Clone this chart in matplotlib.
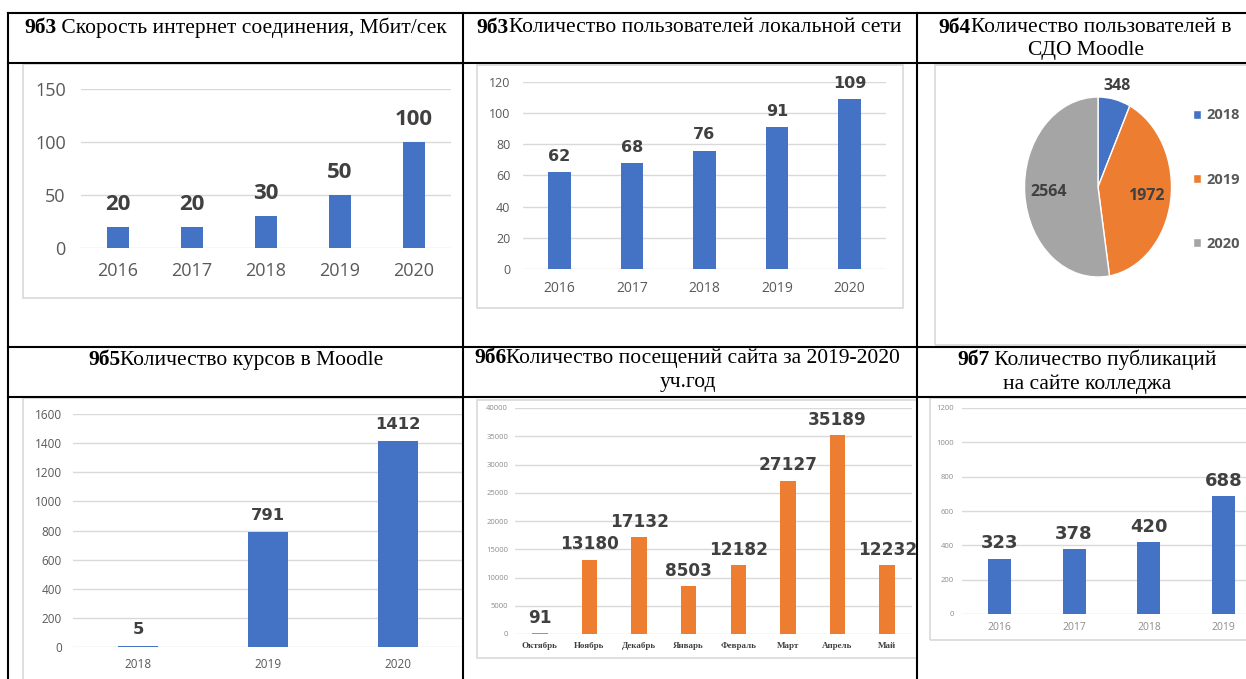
import matplotlib
matplotlib.use("Agg")
import matplotlib.pyplot as plt
import numpy as np
from matplotlib.lines import Line2D
from matplotlib.patches import Rectangle
from matplotlib.transforms import Bbox, TransformedBbox

# ---- data ----
speed_years = ["2016", "2017", "2018", "2019", "2020"]
speed_mbit = [20, 20, 30, 50, 100]

lan_years = ["2016", "2017", "2018", "2019", "2020"]
lan_users = [62, 68, 76, 91, 109]

moodle_years = ["2018", "2019", "2020"]
moodle_users = [348, 1972, 2564]

course_years = ["2018", "2019", "2020"]
courses = [5, 791, 1412]

months = ["Октябрь", "Ноябрь", "Декабрь", "Январь", "Февраль", "Март", "Апрель", "Май"]
visits = [91, 13180, 17132, 8503, 12182, 27127, 35189, 12232]

pub_years = ["2016", "2017", "2018", "2019"]
pubs = [323, 378, 420, 688]

BLUE = "#4472C4"
ORANGE = "#ED7D31"
GRAY = "#A5A5A5"
GRID = "#D9D9D9"
LABEL = "#404040"
SERIF = "Liberation Serif"
SANS = "Open Sans"
WIDE = "DejaVu Sans"

W, H = 1246, 679
fig = plt.figure(figsize=(W / 100, H / 100), dpi=100)


def fx(x):
    return x / W


def fy(y):
    return 1 - y / H


def axes_px(l, t, r, b):
    ax = fig.add_axes([fx(l), fy(b), (r - l) / W, (b - t) / H])
    ax.set_facecolor("none")
    return ax


def frame_px(l, t, r, b):
    fig.add_artist(Rectangle((fx(l), fy(b)), (r - l) / W, (b - t) / H,
                             transform=fig.transFigure, facecolor="none",
                             edgecolor=GRID, lw=1.2, zorder=1))


def bar_chart(ax, cats, vals, ymax, ystep, color, tick_fs, tick_col, ypad,
              x_fs, xpad, lab_fs, lab_off, lab_family=SANS, xfont=None):
    x = range(len(cats))
    ax.bar(x, vals, width=0.31, color=color, zorder=3)
    ax.set_ylim(0, ymax)
    ax.set_yticks(range(0, ymax + 1, ystep))
    ax.set_xticks(list(x))
    ax.set_xticklabels(cats)
    ax.set_xlim(-0.5, len(cats) - 0.5)
    ax.grid(axis="y", color=GRID, lw=1, zorder=0)
    ax.set_axisbelow(True)
    for s in ax.spines.values():
        s.set_visible(False)
    ax.tick_params(length=0)
    ax.tick_params(axis="y", labelsize=tick_fs, labelcolor=tick_col, pad=ypad)
    ax.tick_params(axis="x", labelsize=x_fs, labelcolor=tick_col, pad=xpad)
    for lbl in ax.get_yticklabels():
        lbl.set_family(SANS)
    for lbl in ax.get_xticklabels():
        if xfont:
            lbl.set_family(xfont)
            lbl.set_weight("bold")
            lbl.set_color(LABEL)
        else:
            lbl.set_family(SANS)
    texts = []
    for xi, v in zip(x, vals):
        t = ax.annotate(str(v), (xi, v), xytext=(0, lab_off), textcoords="offset points",
                        ha="center", va="center", fontsize=lab_fs, weight="bold",
                        color=LABEL, family=lab_family, annotation_clip=False)
        texts.append(t)
    return texts


def header(xc, y, bold, rest, size=15.5):
    t1 = fig.text(0, fy(y), bold, weight="bold", family=SERIF, fontsize=size, va="center")
    t2 = fig.text(0, fy(y), rest, family=SERIF, fontsize=size, va="center")
    r = fig.canvas.get_renderer()
    w1 = t1.get_window_extent(r).width
    w2 = t2.get_window_extent(r).width
    x0 = xc - (w1 + w2) / 2
    t1.set_x(fx(x0))
    t2.set_x(fx(x0 + w1))


def line2(xc, y, s, size=15.5):
    fig.text(fx(xc), fy(y), s, family=SERIF, fontsize=size, ha="center", va="center")


# ---- chart frames ----
frame_px(23, 64, 463, 298)
frame_px(477, 65, 903, 308)
frame_px(935, 65, 1260, 345)
frame_px(23, 398, 463, 700)
frame_px(477, 400, 917, 658)
frame_px(930, 398, 1260, 640)

# ---- 9б3 speed ----
ax1 = axes_px(81, 89, 451, 248)
bar_chart(ax1, speed_years, speed_mbit, 150, 50, BLUE, 13, "#595959", 11,
          13, 10, 16, 16)

# ---- 9б3 LAN users ----
ax2 = axes_px(523, 82, 886, 269)
bar_chart(ax2, lan_years, lan_users, 120, 20, BLUE, 9, "#595959", 9,
          10, 9, 11.5, 11.5, lab_family=WIDE)

# ---- 9б4 Moodle users (pie) ----
ax3 = axes_px(1024.5, 97, 1171.5, 277)
wedges, _ = ax3.pie(moodle_users, colors=[BLUE, ORANGE, GRAY], startangle=90,
                    counterclock=False, wedgeprops=dict(edgecolor="white", lw=1))
ax3.set_aspect("auto")
ax3.set_xlim(-1, 1)
ax3.set_ylim(-1, 1)
for w, v in zip(wedges, moodle_users):
    mid = np.deg2rad((w.theta1 + w.theta2) / 2)
    r = 1.15 if v < 1000 else 0.67
    ax3.text(r * np.cos(mid), r * np.sin(mid), str(v), ha="center", va="center",
             fontsize=11.5, weight="bold", color=LABEL, family=SANS)
fig.legend(wedges, moodle_years, loc="upper left", bbox_to_anchor=(fx(1186), fy(101)),
           frameon=False, borderpad=0, handlelength=0.55, handleheight=0.55,
           handletextpad=0.35, labelspacing=3.45,
           prop=dict(family=SANS, size=10.5, weight="bold"), labelcolor="#595959")

# ---- 9б5 courses ----
ax4 = axes_px(73, 414, 463, 647)
bar_chart(ax4, course_years, courses, 1600, 200, BLUE, 8.5, "#595959", 8,
          8.5, 8, 11.8, 12, lab_family=WIDE)

# ---- 9б6 visits ----
ax5 = axes_px(515, 408, 912, 634)
vis_labels = bar_chart(ax5, months, visits, 40000, 5000, ORANGE, 5.5, "#8C8C8C", 5,
                       6.5, 5.5, 12.2, 11, lab_family=WIDE, xfont=SERIF)
clip = TransformedBbox(Bbox([[fx(463), 0], [fx(917), 1]]), fig.transFigure)
for t in vis_labels:
    t.set_clip_box(clip)
    t.set_clip_on(True)

# ---- 9б7 publications ----
ax6 = axes_px(962, 408, 1261, 614)
bar_chart(ax6, pub_years, pubs, 1200, 200, BLUE, 5.5, "#8C8C8C", 6,
          7.5, 6, 13, 11, lab_family=WIDE)

# ---- headers ----
header(235.5, 28, "9б3", " Скорость интернет соединения, Мбит/сек")
header(689, 28, "9б3", "Количество пользователей локальной сети")
header(1085, 28, "9б4", "Количество пользователей в")
line2(1086, 51, "СДО Moodle")
header(236, 360, "9б5", "Количество курсов в Moodle")
header(687, 358, "9б6", "Количество посещений сайта за 2019-2020")
line2(688, 382, "уч.год")
header(1087, 360, "9б7", " Количество публикаций")
line2(1087, 384, "на сайте колледжа")

# ---- table grid ----
for y in [13, 63, 347, 397]:
    fig.add_artist(Line2D([fx(8), 1], [fy(y), fy(y)], color="black", lw=1.5, zorder=5))
for x in [8, 463, 917]:
    fig.add_artist(Line2D([fx(x), fx(x)], [fy(13), 0], color="black", lw=1.5, zorder=5))

fig.savefig("out.png", dpi=100)
